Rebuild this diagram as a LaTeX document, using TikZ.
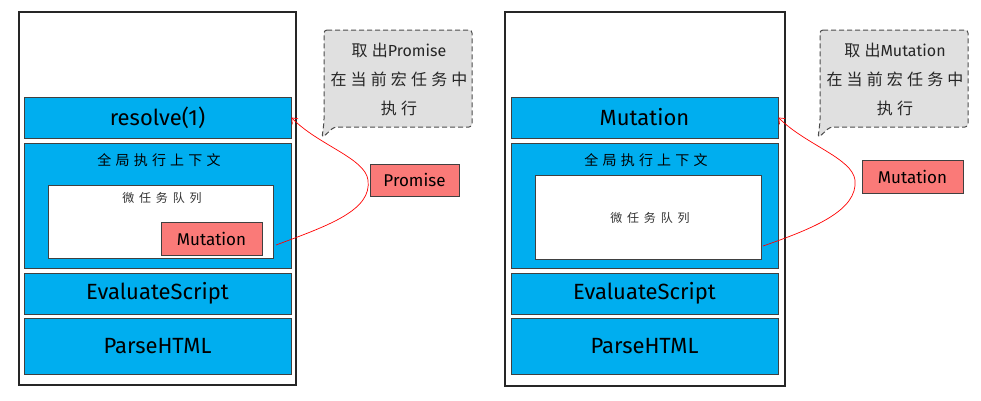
\documentclass[tikz,border=0pt]{standalone}
\usepackage{fontspec}
\setmainfont{Fira Sans}
\newfontfamily\cjk{Noto Sans CJK SC}
\newfontfamily\cjkA[LetterSpace=30]{Noto Sans CJK SC}
\newfontfamily\cjkB[LetterSpace=40]{Noto Sans CJK SC}
\newfontfamily\cjkC[LetterSpace=26]{Noto Sans CJK SC}
\usetikzlibrary{arrows.meta}
\definecolor{bluebox}{RGB}{0,174,239}
\definecolor{redbox}{RGB}{250,122,120}
\definecolor{graybox}{RGB}{224,224,224}
\tikzset{
  frame/.style={draw=black!85, line width=1.6pt, fill=white, inner sep=0pt},
  bluebx/.style={draw=black!75, line width=0.7pt, fill=bluebox, inner sep=0pt, minimum width=267pt, font=\fontsize{22}{24}\selectfont},
  whitebx/.style={draw=black!75, line width=0.7pt, fill=white, inner sep=0pt},
  redbx/.style={draw=black!75, line width=0.7pt, fill=redbox, inner sep=0pt, font=\fontsize{17}{19}\selectfont},
  callout/.style={draw=black!70, dashed, dash pattern=on 5pt off 3pt, line width=1pt, fill=graybox, rounded corners=3pt},
  cjklbl/.style={font=\cjkA\fontsize{14}{16}\selectfont, inner sep=0pt},
  cjksmall/.style={font=\cjkB\fontsize{12}{14}\selectfont, text=black!80, inner sep=0pt},
  calltext/.style={font=\fontsize{16}{29}\selectfont, align=center, text=black!85, inner sep=0pt},
  redline/.style={draw=red, line width=0.7pt, -{Straight Barb[length=5pt,width=8pt]}},
}
\begin{document}
\begin{tikzpicture}[x=1pt,y=-1pt]
\useasboundingbox (0,0) rectangle (981,400);
% ---------- left panel ----------
\node[frame, minimum width=277pt, minimum height=373pt] (outerL) at (157.5,198.5) {};
\node[bluebx, minimum height=41pt] (resolve) at (157.5,117.5) {resolve(1)};
\node[bluebx, minimum height=125pt] (ctxL) at (157.5,205.5) {};
\node[cjklbl] (ctxLlbl) at (159,160) {全局执行上下文};
\node[whitebx, minimum width=225pt, minimum height=73pt] (mqL) at (160.5,221.5) {};
\node[cjksmall] (mqLlbl) at (162,198) {微任务队列};
\node[redbx, minimum width=101pt, minimum height=33pt] (mutL) at (211.5,238.5) {Mutation};
\node[bluebx, minimum height=41pt] (evalL) at (157.5,293.5) {EvaluateScript};
\node[bluebx, minimum height=56pt] (parseL) at (157.5,346) {ParseHTML};
\draw[callout] (324,30) -- (472,30) -- (472,127) -- (334,127) -- (322,138) -- (324,122) -- cycle;
\node[calltext] (callL) at (399,79) {{\cjkC 取出}Promise\\{\cjkC 在当前宏任务中}\\{\cjkC 执行}};
\node[redbx, minimum width=89pt, minimum height=32pt] (promise) at (414.5,180) {Promise};
\coordinate (sL) at (276,245);
\draw[redline] (sL) .. controls (330,225) and (372,210) .. (368,180)
  .. controls (365,158) and (318,145) .. (resolve.east);
% ---------- right panel ----------
\node[frame, minimum width=280pt, minimum height=374pt] (outerR) at (645,199) {};
\node[bluebx, minimum height=41pt] (mutTop) at (644.5,117.5) {Mutation};
\node[bluebx, minimum height=125pt] (ctxR) at (644.5,205.5) {};
\node[cjklbl] (ctxRlbl) at (646,160) {全局执行上下文};
\node[whitebx, minimum width=226pt, minimum height=84pt] (mqR) at (648,217) {};
\node[cjksmall] (mqRlbl) at (650,218) {微任务队列};
\node[bluebx, minimum height=41pt] (evalR) at (644.5,293.5) {EvaluateScript};
\node[bluebx, minimum height=56pt] (parseR) at (644.5,346) {ParseHTML};
\draw[callout] (820,30) -- (968,30) -- (968,127) -- (830,127) -- (818,138) -- (820,122) -- cycle;
\node[calltext] (callR) at (895,79) {{\cjkC 取出}Mutation\\{\cjkC 在当前宏任务中}\\{\cjkC 执行}};
\node[redbx, minimum width=101pt, minimum height=33pt] (mutR) at (912.5,176.5) {Mutation};
\coordinate (sR) at (763,246);
\draw[redline] (sR) .. controls (815,228) and (858,210) .. (855,180)
  .. controls (852,158) and (806,145) .. (mutTop.east);
\end{tikzpicture}
\end{document}
